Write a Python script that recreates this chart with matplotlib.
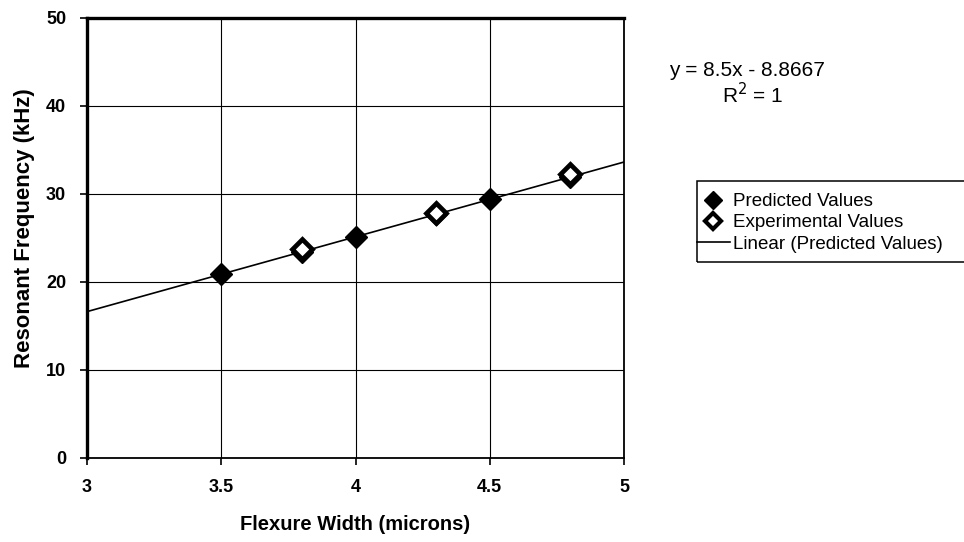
import matplotlib.pyplot as plt
from matplotlib.patches import Rectangle
import numpy as np

plt.rcParams['font.family'] = ['Liberation Sans', 'DejaVu Sans']

# data
pred_width = [3.5, 3.8, 4.0, 4.3, 4.5, 4.8]
pred_freq = [20.88, 23.43, 25.13, 27.68, 29.38, 31.93]
exp_width = [3.8, 4.3, 4.8]
exp_freq = [23.8, 27.8, 32.3]
fit_slope = 8.5
fit_intercept = -8.8667
x_ticks = [3, 3.5, 4, 4.5, 5]
x_tick_labels = ['3', '3.5', '4', '4.5', '5']
y_ticks = [0, 10, 20, 30, 40, 50]

W, H = 964, 542
fig = plt.figure(figsize=(W / 100, H / 100), dpi=100)
ax = fig.add_axes([87 / W, 1 - 458 / H, 537 / W, 440 / H])

fit_x = np.array([3.0, 5.0])
fit_y = fit_slope * fit_x + fit_intercept
ax.plot(fit_x, fit_y, color='black', lw=1.2, zorder=3, label='Linear (Predicted Values)')
ax.plot(pred_width, pred_freq, linestyle='none', marker='D', ms=11, color='black',
        zorder=4, label='Predicted Values')
ax.plot(exp_width, exp_freq, linestyle='none', marker='D', ms=10, mfc='white',
        mec='black', mew=3.4, zorder=5, label='Experimental Values')

ax.set_xlim(3, 5)
ax.set_ylim(0, 50)
ax.set_xticks(x_ticks)
ax.set_xticklabels(x_tick_labels)
ax.set_yticks(y_ticks)
ax.grid(True, color='black', lw=0.8)
ax.set_axisbelow(True)
ax.tick_params(length=5, width=1.2, labelsize=13, pad=10)
for lab in ax.get_xticklabels() + ax.get_yticklabels():
    lab.set_fontweight('bold')
for side in ['left', 'top']:
    ax.spines[side].set_linewidth(2.4)
for side in ['right', 'bottom']:
    ax.spines[side].set_linewidth(1.3)

ax.set_xlabel('Flexure Width (microns)', fontsize=14.5, fontweight='bold', labelpad=14)
ax.set_ylabel('Resonant Frequency (kHz)', fontsize=16, fontweight='bold')
ax.yaxis.set_label_coords((35 - 87) / 537, (458 - 228) / 440)

fig.text(747 / W, 1 - 70 / H, 'y = 8.5x - 8.8667', fontsize=15, ha='center', va='center')
fig.text(753 / W, 1 - 95 / H, 'R$^2$ = 1', fontsize=15, ha='center', va='center')

handles, labels = ax.get_legend_handles_labels()
order = [1, 2, 0]
leg = fig.legend([handles[i] for i in order], [labels[i] for i in order],
                 loc='upper left', bbox_to_anchor=(697 / W, 1 - 193 / H), fontsize=13.5,
                 frameon=False, borderpad=0, handlelength=1.75, handletextpad=0.15,
                 labelspacing=0.22, borderaxespad=0)
for h in leg.legend_handles[:2]:
    h.set_markersize(9)
leg.legend_handles[1].set_markeredgewidth(3)
leg.legend_handles[1].set_markersize(8)

fig.add_artist(Rectangle((697 / W, 1 - 262 / H), 300 / W, 81 / H, transform=fig.transFigure,
                         fill=False, edgecolor='black', lw=1.1))

fig.savefig('out.png', dpi=100)
